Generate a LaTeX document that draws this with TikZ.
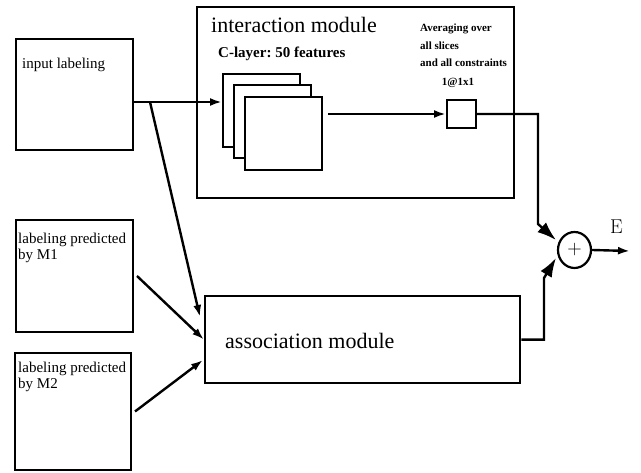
\documentclass[tikz,border=0pt]{standalone}
\usepackage{fontspec}
\setmainfont{Liberation Serif}
\newfontfamily\cmfont{Latin Modern Roman}
\usetikzlibrary{arrows.meta,shapes.geometric}
\frenchspacing

\begin{document}
\begin{tikzpicture}[x=1pt,y=-1pt]
  \tikzset{box/.style={draw,line width=2pt,anchor=north west,inner sep=0pt},
    map/.style={box,fill=white,minimum width=77,minimum height=73},
    txt/.style={anchor=base west,inner sep=0pt,font=\fontsize{15}{18}\selectfont},
    big/.style={txt,font=\fontsize{22}{26}\selectfont},
    note/.style={txt,font=\bfseries\fontsize{11}{14}\selectfont},
    arr/.style={-{Latex[length=12pt,width=8pt]},line width=2.4pt},
    bigarr/.style={-{Latex[length=19pt,width=13pt]},line width=2.4pt}}
  \useasboundingbox (0,0) rectangle (641,473);
  % inputs
  \node[box,minimum width=117,minimum height=111] (input) at (15,38) {};
  \node[txt] (input-l) at (22,69) {input labeling};
  \node[box,minimum width=117,minimum height=112] (m1) at (15,219) {};
  \node[txt] (m1-l1) at (18,244) {labeling predicted};
  \node[txt] (m1-l2) at (18,260) {by M1};
  \node[box,minimum width=116,minimum height=117] (m2) at (14,352) {};
  \node[txt] (m2-l1) at (18,373) {labeling predicted};
  \node[txt] (m2-l2) at (18,389) {by M2};
  % interaction module
  \node[box,line width=2.4pt,minimum width=317,minimum height=191] (inter) at (196,6) {};
  \node[big] (inter-l) at (211,33) {interaction module};
  \node[txt,font=\bfseries\fontsize{15}{18}\selectfont] (clayer) at (218,58) {C-layer: 50 features};
  \node[map] (fm1) at (222,73) {};
  \node[map] (fm2) at (233,84) {};
  \node[map] (fm3) at (244,96) {};
  \node[box,minimum width=29,minimum height=28] (avg) at (446,99) {};
  \node[note] (avg-l1) at (420,32) {Averaging over};
  \node[note] (avg-l2) at (420,50) {all slices};
  \node[note] (avg-l3) at (420,67) {and all constraints};
  \node[note,anchor=base] (avg-l4) at (458,86) {1@1x1};
  % association module
  \node[box,line width=2.4pt,minimum width=315,minimum height=87] (assoc) at (204,295) {};
  \node[big] (assoc-l) at (225,349) {association module};
  % sum
  \node[ellipse,draw,line width=2.2pt,minimum width=33,minimum height=36,inner sep=0pt,
    font=\cmfont\fontsize{20}{24}\selectfont] (sum) at (574.5,250) {+};
  \node[anchor=base,inner sep=0pt,font=\cmfont\fontsize{20}{24}\selectfont] (E) at (616.5,234) {E};
  \coordinate (split) at (150,102);
  \coordinate (in1) at (200,317);
  \coordinate (in3) at (203,360);
  \coordinate (out) at (630,251);

  \draw[arr] (input.east |- split) -- (fm1.west |- split);
  \draw[arr] (split) -- (in1);
  \draw[arr] ([xshift=3pt]m1.east) -- (assoc.west);
  \draw[arr] ([xshift=3pt]m2.east) -- (in3);
  \draw[arr] ([xshift=5pt]fm3.east |- avg) -- (avg.west);
  \draw[bigarr] (avg.east) -| (538,224) -- (556,240);
  \draw[bigarr] (assoc.east) -| (544,278) -- (556,258);
  \draw[arr] (sum.east) -- (out);
\end{tikzpicture}
\end{document}
